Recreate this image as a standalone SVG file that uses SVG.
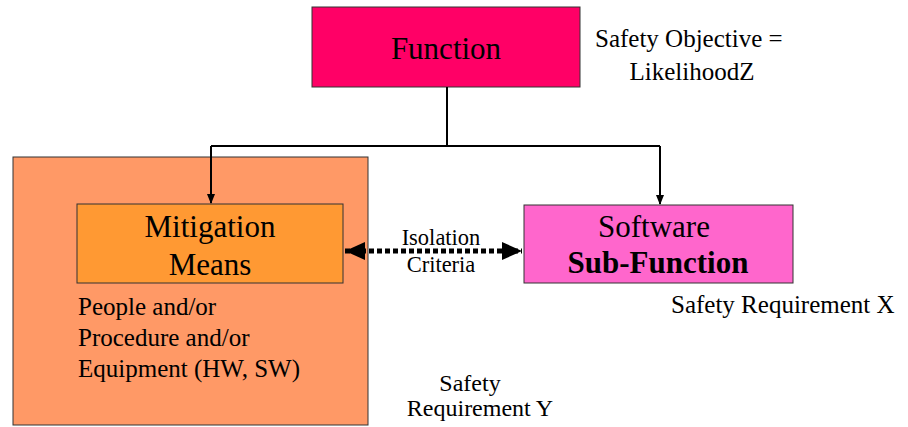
<svg xmlns="http://www.w3.org/2000/svg" width="908" height="427" viewBox="0 0 908 427" font-family="'Liberation Serif', 'Times New Roman', 'DejaVu Serif', serif">
<style>
text{font-family:'Liberation Serif','Times New Roman','DejaVu Serif',serif;fill:#000}
.box{stroke:#333;stroke-width:1}
.big{font-size:31px}
.mid{font-size:25px}
.sm{font-size:22.5px}
.c{text-anchor:middle}
.ln{fill:none;stroke:#000;stroke-width:2}
</style>
<defs>
<marker id="ah" markerWidth="10" markerHeight="10" refX="9" refY="5" orient="auto" markerUnits="userSpaceOnUse">
<path d="M0,1 L10,5 L0,9 Z" fill="#000"/>
</marker>
<marker id="big" markerWidth="22" markerHeight="22" refX="20" refY="11" orient="auto-start-reverse" markerUnits="userSpaceOnUse">
<path d="M0,2 L20,11 L0,20 Z" fill="#000"/>
</marker>
</defs>
<g id="outer">
<rect class="box" x="13" y="157" width="355" height="268" fill="#FF9966"/>
<text class="mid" x="78" y="315">People and/or</text>
<text class="mid" x="78" y="346">Procedure and/or</text>
<text class="mid" x="78" y="377">Equipment (HW, SW)</text>
</g>
<g id="function">
<rect class="box" x="312" y="7" width="268" height="80" fill="#FF0066"/>
<text class="big c" x="446" y="59">Function</text>
</g>
<g id="objective">
<text class="mid" x="595" y="47">Safety Objective =</text>
<text class="mid c" x="692" y="80">LikelihoodZ</text>
</g>
<g id="mitigation">
<rect class="box" x="77" y="204" width="266" height="79" fill="#FF9933"/>
<text class="big c" x="210" y="237">Mitigation</text>
<text class="big c" x="210" y="275">Means</text>
</g>
<g id="software">
<rect class="box" x="524" y="205" width="269" height="78" fill="#FF66CC"/>
<text class="big c" x="654" y="237">Software</text>
<text class="big c" x="658" y="273" font-weight="bold">Sub-Function</text>
</g>
<g id="reqX">
<text class="mid" x="671" y="313">Safety Requirement X</text>
</g>
<g id="reqY">
<text class="c" font-size="24" x="470" y="391">Safety</text>
<text class="c" font-size="24" x="480" y="416">Requirement Y</text>
</g>
<g id="connectors">
<path class="ln" d="M447,87 V146"/>
<path class="ln" d="M211,146 H660"/>
<path class="ln" d="M211,146 V203" marker-end="url(#ah)"/>
<path class="ln" d="M660,146 V204" marker-end="url(#ah)"/>
<path d="M345,251 H522" fill="none" stroke="#000" stroke-width="5" stroke-dasharray="5,3" marker-start="url(#big)" marker-end="url(#big)"/>
<text class="sm c" x="441" y="245">Isolation</text>
<text class="sm c" x="441" y="272">Criteria</text>
</g>
</svg>
